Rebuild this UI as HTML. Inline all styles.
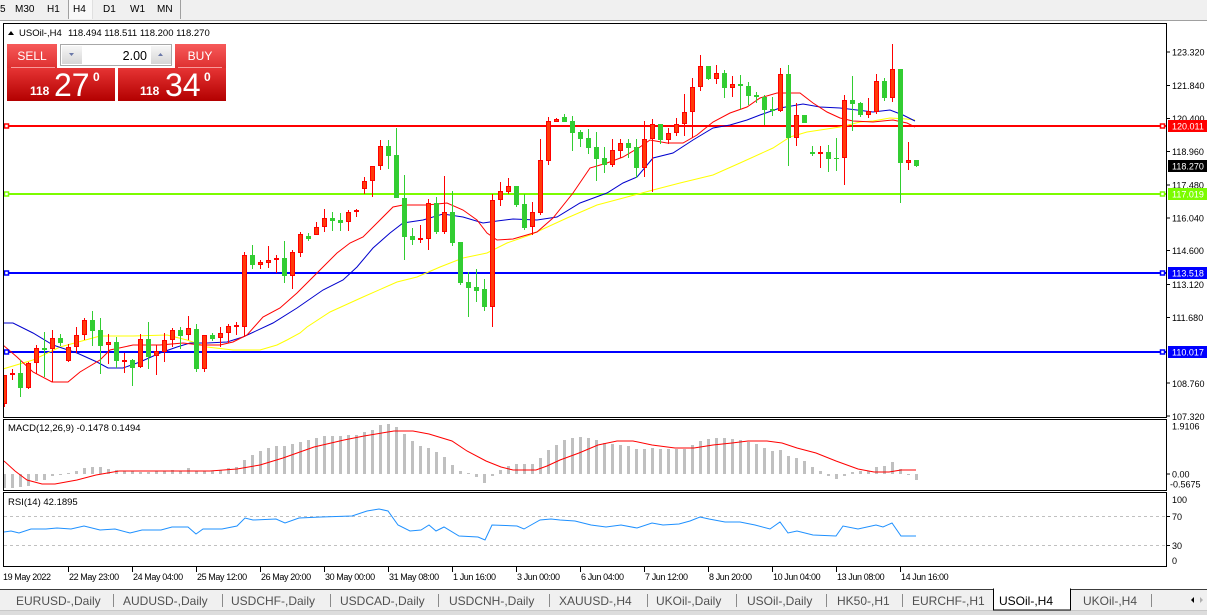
<!DOCTYPE html>
<html><head><meta charset="utf-8"><style>
html,body{margin:0;padding:0;background:#fff;width:1207px;height:615px;overflow:hidden}
svg{display:block}
text{font-family:"Liberation Sans",sans-serif}
</style></head><body>
<svg width="1207" height="615" viewBox="0 0 1207 615" xmlns="http://www.w3.org/2000/svg">
<defs>
<linearGradient id="bt" x1="0" y1="0" x2="0" y2="1"><stop offset="0" stop-color="#f75a5a"/><stop offset="1" stop-color="#de3030"/></linearGradient>
<linearGradient id="pb" x1="0" y1="0" x2="0" y2="1"><stop offset="0" stop-color="#e63434"/><stop offset="1" stop-color="#b30000"/></linearGradient>
<linearGradient id="sb" x1="0" y1="0" x2="0" y2="1"><stop offset="0" stop-color="#f6f6f6"/><stop offset="1" stop-color="#d6d6d6"/></linearGradient>
<clipPath id="cm"><rect x="4" y="24" width="1162" height="393"/></clipPath>
<clipPath id="cd"><rect x="4" y="420" width="1162" height="70"/></clipPath>
<clipPath id="cr"><rect x="4" y="493" width="1162" height="73"/></clipPath>
</defs>
<rect width="1207" height="615" fill="#fff"/>
<!-- toolbar -->
<rect x="0" y="0" width="1207" height="20" fill="#f0f0f0"/>
<rect x="68" y="0" width="25" height="19" fill="#f9f9f9"/>
<line x1="68.5" y1="0" x2="68.5" y2="19" stroke="#a0a0a0"/>
<line x1="92.5" y1="0" x2="92.5" y2="19" stroke="#e0e0e0"/>
<line x1="180.5" y1="0" x2="180.5" y2="19" stroke="#a0a0a0"/>
<line x1="0" y1="20.5" x2="1207" y2="20.5" stroke="#a0a0a0"/>
<g font-size="10" fill="#000">
<text x="0" y="12">5</text><text x="15" y="12">M30</text><text x="47" y="12">H1</text><text x="73" y="12">H4</text><text x="103" y="12">D1</text><text x="130" y="12">W1</text><text x="157" y="12">MN</text>
</g>
<!-- panel frames -->
<rect x="3.5" y="23.5" width="1163" height="394" fill="none" stroke="#000"/>
<rect x="3.5" y="419.5" width="1163" height="71" fill="none" stroke="#000"/>
<rect x="3.5" y="492.5" width="1163" height="74" fill="none" stroke="#000"/>

<!-- main chart -->
<g clip-path="url(#cm)">
<!-- horizontal lines -->
<line x1="4" y1="126" x2="1166" y2="126" stroke="#ff0000" stroke-width="2"/>
<line x1="4" y1="194" x2="1166" y2="194" stroke="#7cfc00" stroke-width="2"/>
<line x1="4" y1="273" x2="1166" y2="273" stroke="#0000ff" stroke-width="2"/>
<line x1="4" y1="352" x2="1166" y2="352" stroke="#0000ff" stroke-width="2"/>
<!-- MAs -->
<polyline fill="none" stroke="#ffff00" stroke-width="1" points="3,369 33,360 60,347 100,336 133,336 167,335 187,340 207,347 233,350 260,350 277,345 287,340 300,333 307,327 330,312 363,297 397,282 417,277 440,267 463,258 487,253 507,243 530,235 567,218 597,205 627,197 653,190 680,183 713,175 740,163 773,148 790,137 807,132 840,127 860,122 873,121 890,118 907,119 915,120"/>
<polyline fill="none" stroke="#0000cd" stroke-width="1" points="3,323 13,323 33,333 53,345 77,353 97,362 108,368 123,368 140,362 160,353 177,347 190,343 207,343 227,342 243,337 273,323 297,308 323,290 343,280 357,267 373,248 390,233 403,223 423,220 443,214 463,217 483,223 497,221 513,219 537,220 557,217 580,203 607,193 623,183 637,177 653,158 673,153 693,140 713,128 730,125 747,120 760,115 780,108 803,104 820,107 840,108 857,110 873,112 890,110 903,115 915,121"/>
<polyline fill="none" stroke="#ff0000" stroke-width="1" points="3,345 17,357 33,372 52,382 68,382 80,372 100,360 110,350 133,345 160,345 183,343 200,345 220,345 233,342 247,335 263,317 280,308 297,293 317,273 337,253 350,243 363,237 380,220 393,207 403,205 427,205 447,203 463,210 477,220 487,233 497,240 513,239 537,232 553,218 573,193 590,168 607,163 623,157 640,147 650,140 667,143 683,143 697,135 713,122 730,113 747,107 760,98 777,93 800,93 813,103 827,112 840,118 853,121 873,122 893,120 907,123 915,127"/>
<!-- red wicks -->
<path fill="none" stroke="#ff0000" stroke-width="1" d="M4.5 375V407M12.5 369V380M28.5 362V389M36.5 345V374M52.5 330V382M68.5 344V362M76.5 327V353M84.5 318V340M108.5 334V364M124.5 353V373M140.5 334V368M156.5 345V375M164.5 333V362M172.5 328V347M188.5 316V340M204.5 335V372M220.5 327V347M228.5 324V343M236.5 322V335M244.5 252V337M260.5 260V269M268.5 246V268M276.5 255V273M292.5 250V289M300.5 232V257M316.5 222V235M324.5 209V232M348.5 210V231M356.5 209V217M364.5 177V194M372.5 166V197M380.5 140V170M420.5 225V243M428.5 199V250M444.5 176V234M492.5 194V327M500.5 182V206M508.5 178V194M532.5 202V235M540.5 139V215M548.5 117V165M556.5 118V122M612.5 139V167M620.5 139V158M644.5 121V177M652.5 119V192M668.5 128V144M676.5 118V136M684.5 94V136M692.5 78V138M700.5 55V91M716.5 65V84M732.5 76V97M780.5 68V112M796.5 103V146M820.5 146V168M844.5 95V185M868.5 98V118M876.5 74V114M892.5 44V102M908.5 142V170"/>
<!-- green wicks -->
<path fill="none" stroke="#32cd32" stroke-width="1" d="M20.5 360V397M44.5 332V377M60.5 334V346M92.5 311V346M100.5 318V374M116.5 337V368M132.5 359V386M148.5 322V369M180.5 327V349M196.5 324V372M212.5 333V341M252.5 245V269M284.5 241V283M308.5 233V241M332.5 212V231M340.5 213V231M388.5 140V169M396.5 128V198M404.5 175V260M412.5 228V245M436.5 197V234M452.5 191V246M460.5 242V285M468.5 272V317M476.5 269V302M484.5 279V311M516.5 186V207M524.5 194V230M564.5 114V122M572.5 116V151M580.5 130V147M588.5 129V154M596.5 132V181M604.5 147V173M628.5 139V158M636.5 139V178M660.5 124V144M708.5 66V80M724.5 70V98M740.5 75V109M748.5 82V105M756.5 92V103M764.5 95V125M772.5 97V116M788.5 65V166M804.5 115V123M812.5 146V156M828.5 145V172M836.5 138V171M852.5 76V131M860.5 102V117M884.5 78V101M900.5 69V203M916.5 160V167"/>
<!-- red bodies -->
<path fill="#ff3a0a" stroke="#ff0000" stroke-width="1" d="M2.5 375.5h4v28h-4zM10.5 373.5h4v1h-4zM26.5 363.5h4v24h-4zM34.5 348.5h4v14h-4zM50.5 338.5h4v10h-4zM66.5 347.5h4v13h-4zM74.5 335.5h4v11h-4zM82.5 320.5h4v14h-4zM106.5 342.5h4v2h-4zM122.5 360.5h4v1h-4zM138.5 339.5h4v27h-4zM154.5 351.5h4v4h-4zM162.5 340.5h4v11h-4zM170.5 330.5h4v9h-4zM186.5 328.5h4v6h-4zM202.5 335.5h4v33h-4zM218.5 333.5h4v4h-4zM226.5 326.5h4v6h-4zM234.5 325.5h4v1h-4zM242.5 255.5h4v71h-4zM258.5 262.5h4v2h-4zM266.5 260.5h4v2h-4zM274.5 258.5h4v1h-4zM290.5 252.5h4v23h-4zM298.5 234.5h4v18h-4zM314.5 227.5h4v7h-4zM322.5 218.5h4v8h-4zM346.5 212.5h4v9h-4zM354.5 210.5h4v1h-4zM362.5 181.5h4v7h-4zM370.5 166.5h4v14h-4zM378.5 146.5h4v19h-4zM418.5 238.5h4v1h-4zM426.5 203.5h4v35h-4zM442.5 212.5h4v19h-4zM490.5 200.5h4v106h-4zM498.5 191.5h4v8h-4zM506.5 186.5h4v5h-4zM530.5 212.5h4v14h-4zM538.5 160.5h4v52h-4zM546.5 121.5h4v39h-4zM554.5 119.5h4v2h-4zM610.5 150.5h4v14h-4zM618.5 143.5h4v7h-4zM642.5 139.5h4v28h-4zM650.5 124.5h4v14h-4zM666.5 133.5h4v6h-4zM674.5 124.5h4v8h-4zM682.5 112.5h4v11h-4zM690.5 87.5h4v24h-4zM698.5 66.5h4v20h-4zM714.5 73.5h4v5h-4zM730.5 84.5h4v3h-4zM778.5 74.5h4v36h-4zM794.5 115.5h4v22h-4zM818.5 152.5h4v1h-4zM842.5 100.5h4v57h-4zM866.5 111.5h4v3h-4zM874.5 81.5h4v30h-4zM890.5 69.5h4v28h-4zM906.5 160.5h4v2h-4z"/>
<!-- green bodies -->
<path fill="#32cd32" d="M18 373h5v15h-5zM42 348h5v2h-5zM58 338h5v5h-5zM90 320h5v11h-5zM98 330h5v16h-5zM114 342h5v19h-5zM130 360h5v8h-5zM146 339h5v18h-5zM178 330h5v6h-5zM194 329h5v40h-5zM210 335h5v4h-5zM250 255h5v10h-5zM282 258h5v18h-5zM306 236h5v3h-5zM330 218h5v3h-5zM338 220h5v3h-5zM386 146h5v10h-5zM394 155h5v43h-5zM402 198h5v39h-5zM410 236h5v4h-5zM434 203h5v29h-5zM450 212h5v31h-5zM458 242h5v41h-5zM466 282h5v6h-5zM474 287h5v4h-5zM482 289h5v18h-5zM514 186h5v19h-5zM522 204h5v24h-5zM562 117h5v5h-5zM570 121h5v12h-5zM578 132h5v7h-5zM586 138h5v10h-5zM594 147h5v12h-5zM602 158h5v7h-5zM626 143h5v5h-5zM634 147h5v21h-5zM658 124h5v16h-5zM706 66h5v13h-5zM722 73h5v15h-5zM738 84h5v2h-5zM746 86h5v10h-5zM754 95h5v2h-5zM762 97h5v13h-5zM770 109h5v2h-5zM786 74h5v64h-5zM802 115h5v8h-5zM810 152h5v2h-5zM826 152h5v7h-5zM834 158h5v1h-5zM850 100h5v4h-5zM858 103h5v12h-5zM882 81h5v17h-5zM898 69h5v94h-5zM914 160h5v6h-5z"/>
<!-- line markers -->
<rect x="4.5" y="124" width="4" height="4" fill="#fff" stroke="#ff0000" stroke-width="1.5"/>
<rect x="4.5" y="192" width="4" height="4" fill="#fff" stroke="#7cfc00" stroke-width="1.5"/>
<rect x="4.5" y="271" width="4" height="4" fill="#fff" stroke="#0000ff" stroke-width="1.5"/>
<rect x="4.5" y="350" width="4" height="4" fill="#fff" stroke="#0000ff" stroke-width="1.5"/>
<rect x="1160.5" y="124" width="4" height="4" fill="#fff" stroke="#ff0000" stroke-width="1.5"/>
<rect x="1160.5" y="192" width="4" height="4" fill="#fff" stroke="#7cfc00" stroke-width="1.5"/>
<rect x="1160.5" y="271" width="4" height="4" fill="#fff" stroke="#0000ff" stroke-width="1.5"/>
<rect x="1160.5" y="350" width="4" height="4" fill="#fff" stroke="#0000ff" stroke-width="1.5"/>
</g>

<!-- header text -->
<path d="M8 35l3-4 3 4z" fill="#000"/>
<text x="19" y="36" font-size="9.5" fill="#000">USOil-,H4</text>
<text x="68" y="36" font-size="9.5" fill="#000">118.494 118.511 118.200 118.270</text>

<!-- trade panel -->
<rect x="7" y="44" width="50" height="24" fill="url(#bt)"/>
<line x1="11" y1="67.5" x2="55" y2="67.5" stroke="#f89a9a"/>
<text x="32" y="60" font-size="12" fill="#fff" text-anchor="middle">SELL</text>
<rect x="7" y="68" width="108" height="33" fill="url(#pb)"/>
<text x="30" y="95" font-size="12" font-weight="bold" fill="#fff">118</text>
<text x="54" y="96" font-size="32" fill="#fff">27</text>
<text x="93" y="81" font-size="12" font-weight="bold" fill="#fff">0</text>
<rect x="175" y="44" width="51" height="24" fill="url(#bt)"/>
<line x1="178" y1="67.5" x2="222" y2="67.5" stroke="#f89a9a"/>
<text x="200" y="60" font-size="12" fill="#fff" text-anchor="middle">BUY</text>
<rect x="118" y="68" width="108" height="33" fill="url(#pb)"/>
<text x="140" y="95" font-size="12" font-weight="bold" fill="#fff">118</text>
<text x="165" y="96" font-size="32" fill="#fff">34</text>
<text x="204" y="81" font-size="12" font-weight="bold" fill="#fff">0</text>
<rect x="60.5" y="44.5" width="111" height="21" fill="#fff" stroke="#a8a8a8"/>
<rect x="62" y="46" width="20" height="18" fill="url(#sb)"/>
<rect x="151" y="46" width="20" height="18" fill="url(#sb)"/>
<path d="M69 53h5l-2.5 3z" fill="#6a78a8"/>
<path d="M158 56h5l-2.5-3z" fill="#6a78a8"/>
<text x="147" y="60" font-size="12.5" fill="#000" text-anchor="end">2.00</text>

<!-- right axis -->
<g stroke="#000" stroke-width="1">
<line x1="1167" y1="52" x2="1170" y2="52"/><line x1="1167" y1="85.5" x2="1170" y2="85.5"/><line x1="1167" y1="118.5" x2="1170" y2="118.5"/><line x1="1167" y1="151.5" x2="1170" y2="151.5"/><line x1="1167" y1="185" x2="1170" y2="185"/><line x1="1167" y1="218" x2="1170" y2="218"/><line x1="1167" y1="250.5" x2="1170" y2="250.5"/><line x1="1167" y1="284.5" x2="1170" y2="284.5"/><line x1="1167" y1="317.5" x2="1170" y2="317.5"/><line x1="1167" y1="383" x2="1170" y2="383"/><line x1="1167" y1="416" x2="1170" y2="416"/>
<line x1="1167" y1="474" x2="1170" y2="474"/><line x1="1167" y1="516.5" x2="1170" y2="516.5"/><line x1="1167" y1="545.5" x2="1170" y2="545.5"/>
</g>
<g font-size="9" fill="#000">
<text x="1172" y="55.5">123.320</text>
<text x="1172" y="89">121.840</text>
<text x="1172" y="122">120.400</text>
<text x="1172" y="155">118.960</text>
<text x="1172" y="188.5">117.480</text>
<text x="1172" y="221.5">116.040</text>
<text x="1172" y="254">114.600</text>
<text x="1172" y="288">113.120</text>
<text x="1172" y="321">111.680</text>
<text x="1172" y="354">110.200</text>
<text x="1172" y="387">108.760</text>
<text x="1172" y="420">107.320</text>
<text x="1172" y="429.5">1.9106</text>
<text x="1172" y="477.5">0.00</text>
<text x="1170" y="487.5">-0.5675</text>
<text x="1172" y="503">100</text>
<text x="1172" y="520">70</text>
<text x="1172" y="549">30</text>
<text x="1172" y="564">0</text>
</g>
<rect x="1168" y="120" width="39" height="12" fill="#ff0000"/>
<rect x="1168" y="160" width="39" height="12" fill="#000"/>
<rect x="1168" y="188" width="39" height="12" fill="#7cfc00"/>
<rect x="1168" y="267" width="39" height="12" fill="#0000ff"/>
<rect x="1168" y="346" width="39" height="12" fill="#0000ff"/>
<g font-size="9" fill="#fff">
<text x="1172" y="129.5">120.011</text>
<text x="1172" y="169.5">118.270</text>
<text x="1172" y="197.5">117.019</text>
<text x="1172" y="276.5">113.518</text>
<text x="1172" y="355.5">110.017</text>
</g>

<!-- MACD -->
<g clip-path="url(#cd)">
<path fill="#c0c0c0" d="M3 474h3V488h-3zM11 474h3V488h-3zM19 474h3V487h-3zM27 474h3V486h-3zM35 474h3V481h-3zM43 474h3V480h-3zM51 474h3V476h-3zM59 474h3V475h-3zM67 473h3V474h-3zM75 471h3V474h-3zM83 468h3V474h-3zM91 467h3V474h-3zM99 467h3V474h-3zM107 469h3V474h-3zM115 470h3V474h-3zM123 471h3V474h-3zM131 471h3V474h-3zM139 472h3V474h-3zM147 472h3V474h-3zM155 471h3V474h-3zM163 471h3V474h-3zM171 470h3V474h-3zM179 471h3V474h-3zM187 468h3V474h-3zM195 471h3V474h-3zM203 471h3V474h-3zM211 471h3V474h-3zM219 470h3V474h-3zM227 468h3V474h-3zM235 467h3V474h-3zM243 460h3V474h-3zM251 455h3V474h-3zM259 451h3V474h-3zM267 448h3V474h-3zM275 446h3V474h-3zM283 446h3V474h-3zM291 444h3V474h-3zM299 442h3V474h-3zM307 440h3V474h-3zM315 438h3V474h-3zM323 436h3V474h-3zM331 436h3V474h-3zM339 436h3V474h-3zM347 435h3V474h-3zM355 435h3V474h-3zM363 432h3V474h-3zM371 430h3V474h-3zM379 425h3V474h-3zM387 424h3V474h-3zM395 427h3V474h-3zM403 434h3V474h-3zM411 441h3V474h-3zM419 446h3V474h-3zM427 448h3V474h-3zM435 452h3V474h-3zM443 457h3V474h-3zM451 465h3V474h-3zM459 471h3V474h-3zM467 473h3V474h-3zM475 474h3V477h-3zM483 474h3V483h-3zM491 474h3V476h-3zM499 470h3V474h-3zM507 466h3V474h-3zM515 464h3V474h-3zM523 464h3V474h-3zM531 464h3V474h-3zM539 458h3V474h-3zM547 450h3V474h-3zM555 445h3V474h-3zM563 440h3V474h-3zM571 438h3V474h-3zM579 437h3V474h-3zM587 438h3V474h-3zM595 440h3V474h-3zM603 443h3V474h-3zM611 444h3V474h-3zM619 445h3V474h-3zM627 446h3V474h-3zM635 449h3V474h-3zM643 449h3V474h-3zM651 448h3V474h-3zM659 449h3V474h-3zM667 449h3V474h-3zM675 449h3V474h-3zM683 449h3V474h-3zM691 445h3V474h-3zM699 441h3V474h-3zM707 439h3V474h-3zM715 438h3V474h-3zM723 438h3V474h-3zM731 439h3V474h-3zM739 440h3V474h-3zM747 442h3V474h-3zM755 444h3V474h-3zM763 448h3V474h-3zM771 451h3V474h-3zM779 450h3V474h-3zM787 456h3V474h-3zM795 458h3V474h-3zM803 461h3V474h-3zM811 467h3V474h-3zM819 471h3V474h-3zM827 474h3V476h-3zM835 474h3V479h-3zM843 474h3V476h-3zM851 472h3V474h-3zM859 471h3V474h-3zM867 471h3V474h-3zM875 467h3V474h-3zM883 466h3V474h-3zM891 462h3V474h-3zM899 469h3V474h-3zM907 474h3V475h-3zM915 474h3V480h-3z"/>
<polyline fill="none" stroke="#ff0000" stroke-width="1" points="4,461 15,471 27,480 42,484 55,484 77,480 96,475 119,471 161,471 210,471 237,469 260,465 283,458 314,447 344,440 364,436 394,431 413,431 429,434 452,441 467,451 486,461 501,467 513,470 536,470 547,466 560,460 579,453 598,445 617,441 633,441 652,445 675,448 694,448 713,445 732,443 748,441 767,441 782,443 797,448 816,453 836,461 858,469 874,472 889,472 901,470 916,470"/>
</g>
<text x="8" y="431" font-size="9.5" fill="#000">MACD(12,26,9) -0.1478 0.1494</text>

<!-- RSI -->
<g clip-path="url(#cr)">
<line x1="4" y1="516.5" x2="1166" y2="516.5" stroke="#c0c0c0" stroke-dasharray="3,3"/>
<line x1="4" y1="545.5" x2="1166" y2="545.5" stroke="#c0c0c0" stroke-dasharray="3,3"/>
<polyline fill="none" stroke="#1e90ff" stroke-width="1" points="4,532 11,531 19,533 31,529 46,529 57,528 71,529 84,526 100,530 115,529 130,533 142,530 161,530 172,527 188,527 196,534 203,529 222,529 237,526 245,518 253,520 276,519 285,523 299,518 321,517 352,516 367,511 379,509 388,511 398,525 410,531 421,530 429,525 436,531 444,527 459,536 478,537 485,540 492,525 517,526 524,529 540,520 551,519 560,520 575,521 591,525 606,527 621,525 637,528 652,523 663,525 679,524 690,521 700,517 709,519 725,522 740,522 755,525 770,529 780,522 788,533 797,531 813,535 836,536 843,526 858,529 876,525 883,527 892,523 901,536 916,536"/>
</g>
<text x="8" y="505" font-size="9.5" fill="#000">RSI(14) 42.1895</text>

<!-- time axis -->
<g stroke="#000" stroke-width="1">
<line x1="68.5" y1="567" x2="68.5" y2="572"/><line x1="132.5" y1="567" x2="132.5" y2="572"/><line x1="196.5" y1="567" x2="196.5" y2="572"/><line x1="260.5" y1="567" x2="260.5" y2="572"/><line x1="324.5" y1="567" x2="324.5" y2="572"/><line x1="388.5" y1="567" x2="388.5" y2="572"/><line x1="452.5" y1="567" x2="452.5" y2="572"/><line x1="516.5" y1="567" x2="516.5" y2="572"/><line x1="580.5" y1="567" x2="580.5" y2="572"/><line x1="644.5" y1="567" x2="644.5" y2="572"/><line x1="708.5" y1="567" x2="708.5" y2="572"/><line x1="772.5" y1="567" x2="772.5" y2="572"/><line x1="836.5" y1="567" x2="836.5" y2="572"/><line x1="900.5" y1="567" x2="900.5" y2="572"/>
</g>
<g font-size="9" fill="#000" letter-spacing="-0.4">
<text x="3" y="580">19 May 2022</text>
<text x="69" y="580">22 May 23:00</text>
<text x="133" y="580">24 May 04:00</text>
<text x="197" y="580">25 May 12:00</text>
<text x="261" y="580">26 May 20:00</text>
<text x="325" y="580">30 May 00:00</text>
<text x="389" y="580">31 May 08:00</text>
<text x="453" y="580">1 Jun 16:00</text>
<text x="517" y="580">3 Jun 00:00</text>
<text x="581" y="580">6 Jun 04:00</text>
<text x="645" y="580">7 Jun 12:00</text>
<text x="709" y="580">8 Jun 20:00</text>
<text x="773" y="580">10 Jun 04:00</text>
<text x="837" y="580">13 Jun 08:00</text>
<text x="901" y="580">14 Jun 16:00</text>
</g>

<!-- tabs -->
<rect x="0" y="589" width="1207" height="22" fill="#f0f0f0"/>
<line x1="0" y1="589.5" x2="1207" y2="589.5" stroke="#3c3c3c"/>
<rect x="0" y="611" width="1207" height="4" fill="#dcdcdc"/>
<line x1="0" y1="610.5" x2="1207" y2="610.5" stroke="#c8c8c8"/>
<rect x="993.5" y="589" width="77" height="21" fill="#fff" stroke="#000"/>
<rect x="994" y="588" width="76" height="3" fill="#fff"/>
<g stroke="#8a8a8a" stroke-width="1">
<line x1="113.5" y1="594" x2="113.5" y2="607"/><line x1="222.5" y1="594" x2="222.5" y2="607"/><line x1="330.5" y1="594" x2="330.5" y2="607"/><line x1="438.5" y1="594" x2="438.5" y2="607"/><line x1="549.5" y1="594" x2="549.5" y2="607"/><line x1="647.5" y1="594" x2="647.5" y2="607"/><line x1="736.5" y1="594" x2="736.5" y2="607"/><line x1="826.5" y1="594" x2="826.5" y2="607"/><line x1="902.5" y1="594" x2="902.5" y2="607"/><line x1="1151.5" y1="594" x2="1151.5" y2="607"/>
</g>
<g font-size="12" fill="#505050">
<text x="16" y="605">EURUSD-,Daily</text>
<text x="123" y="605">AUDUSD-,Daily</text>
<text x="231" y="605">USDCHF-,Daily</text>
<text x="340" y="605">USDCAD-,Daily</text>
<text x="449" y="605">USDCNH-,Daily</text>
<text x="559" y="605">XAUUSD-,H4</text>
<text x="656" y="605">UKOil-,Daily</text>
<text x="747" y="605">USOil-,Daily</text>
<text x="837" y="605">HK50-,H1</text>
<text x="912" y="605">EURCHF-,H1</text>
<text x="999" y="605" fill="#000">USOil-,H4</text>
<text x="1083" y="605">UKOil-,H4</text>
</g>
<path d="M1194 597v6l-3-3z" fill="#000"/>
<path d="M1200 597v6l3-3z" fill="#b0b0b0"/>
</svg>
</body></html>
